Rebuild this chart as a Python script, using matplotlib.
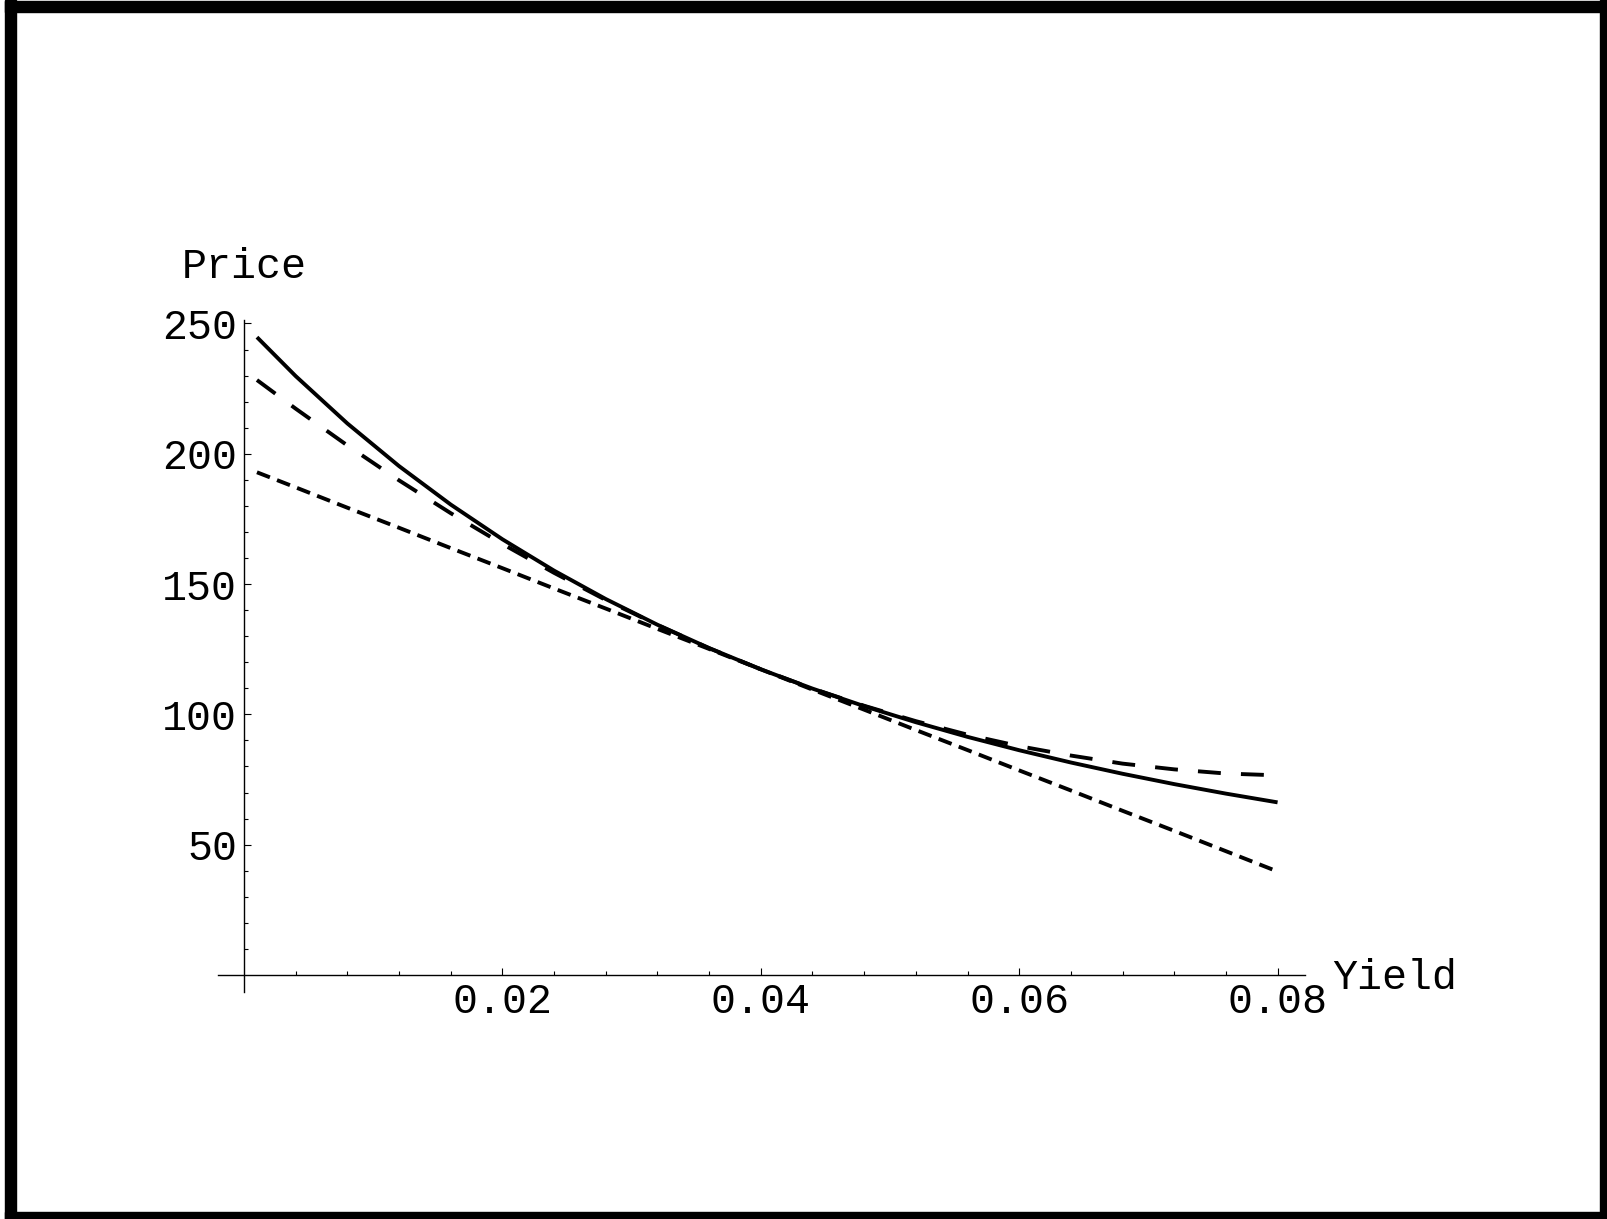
import matplotlib
matplotlib.use('Agg')
import matplotlib.pyplot as plt
from matplotlib.patches import Rectangle
from matplotlib.ticker import FixedLocator

plt.rcParams['font.family'] = ['Liberation Mono', 'DejaVu Sans Mono']
plt.rcParams['lines.scale_dashes'] = False

# yield grid and prices
yields = [0.001, 0.004, 0.008, 0.012, 0.016, 0.020, 0.024, 0.028, 0.032, 0.036, 0.040,
          0.044, 0.048, 0.052, 0.056, 0.060, 0.064, 0.068, 0.072, 0.076, 0.080]
price_exact = [244.75, 229.80, 211.63, 195.27, 180.51, 167.19, 155.15, 144.26, 134.39, 125.43, 117.29,
               109.89, 103.15, 96.99, 91.37, 86.24, 81.53, 77.21, 73.24, 69.59, 66.23]
price_convexity = [228.3, 217.3, 203.2, 189.8, 177.2, 165.4, 154.3, 143.9, 134.3, 125.4, 117.3,
                   109.9, 103.3, 97.4, 92.2, 87.8, 84.2, 81.1, 78.9, 77.3, 76.6]
price_duration = [192.9, 187.1, 179.3, 171.6, 163.8, 156.1, 148.3, 140.6, 132.8, 125.1, 117.3,
                  109.5, 101.8, 94.0, 86.3, 78.5, 70.8, 63.0, 55.3, 47.5, 39.7]

x_major = [0.02, 0.04, 0.06, 0.08]
x_minor = [0.004, 0.008, 0.012, 0.016, 0.024, 0.028, 0.032, 0.036,
           0.044, 0.048, 0.052, 0.056, 0.064, 0.068, 0.072, 0.076]
y_major = [50, 100, 150, 200, 250]
y_minor = [v for v in range(10, 250, 10) if v % 50 != 0]

W, H = 1608, 1219
fig = plt.figure(figsize=(W / 100, H / 100), dpi=100)

# axes placed so that the spines match the reference pixel layout
left, right = 218.2 / W, 1304.7 / W
bottom, top = 1 - 991.9 / H, 1 - 320.1 / H
ax = fig.add_axes([left, bottom, right - left, top - bottom])
ax.set_xlim(-0.002, 0.0821)
ax.set_ylim(-6.5, 251.3)

lw = 2.8
ax.plot(yields, price_duration, color='black', lw=lw, linestyle=(0, (10, 5.5)))
ax.plot(yields, price_convexity, color='black', lw=lw, linestyle=(0, (16.5, 14.5)))
ax.plot(yields, price_exact, color='black', lw=lw, solid_capstyle='butt')

for s in ['top', 'right']:
    ax.spines[s].set_visible(False)
ax.spines['left'].set_position(('data', 0))
ax.spines['bottom'].set_position(('data', 0))
for s in ['left', 'bottom']:
    ax.spines[s].set_linewidth(1.0)

ax.xaxis.set_major_locator(FixedLocator(x_major))
ax.xaxis.set_minor_locator(FixedLocator(x_minor))
ax.yaxis.set_major_locator(FixedLocator(y_major))
ax.yaxis.set_minor_locator(FixedLocator(y_minor))
ax.set_xticklabels([f'{v:.2f}' for v in x_major])
ax.set_yticklabels([str(v) for v in y_major])

ax.tick_params(axis='both', which='major', direction='in', length=5, width=0.8, labelsize=30)
ax.tick_params(axis='both', which='minor', direction='in', length=2.8, width=0.8)
ax.tick_params(axis='x', which='major', pad=5)
ax.tick_params(axis='y', which='major', pad=5)

ax.text(0, 267.5, 'Price', ha='center', va='baseline', fontsize=30)
ax.text(0.0842, -5.4, 'Yield', ha='left', va='baseline', fontsize=30)

# black frame round the picture
frame = [(5, 0, 11, H), (5, 1, W - 5, 11), (1600, 0, 8, H), (5, 1212, W - 5, 7)]
for x0, y0, w, h in frame:
    fig.patches.append(Rectangle((x0 / W, 1 - (y0 + h) / H), w / W, h / H,
                                 transform=fig.transFigure, color='black', zorder=10))

fig.savefig('out.png', dpi=100)
